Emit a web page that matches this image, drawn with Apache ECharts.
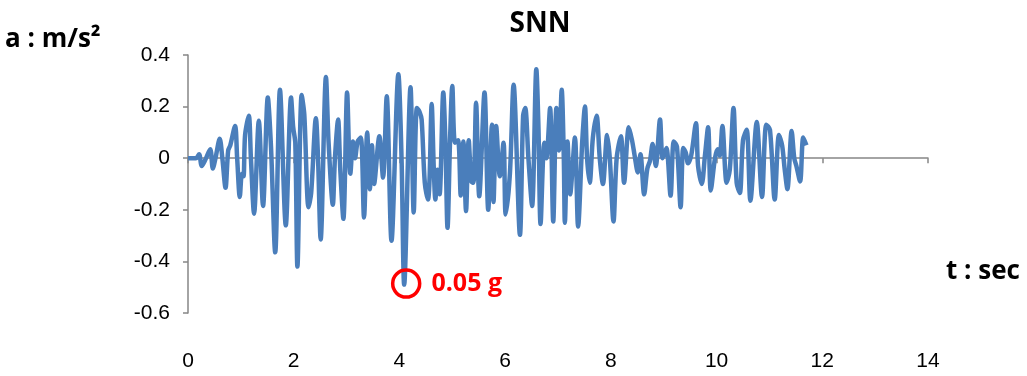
<!DOCTYPE html>
<html>
<head>
<meta charset="utf-8">
<title>SNN</title>
<script src="https://cdn.jsdelivr.net/npm/echarts@6/dist/echarts.min.js"></script>
<style>
  html, body { margin: 0; padding: 0; background: #fff; }
  #chart { width: 1027px; height: 376px; }
</style>
</head>
<body>
<div id="chart"></div>
<script>
// Ground acceleration record, SNN component (time in s, acceleration in m/s²)
const timeSec = [
  0, 0.15, 0.21, 0.26, 0.33, 0.42, 0.47, 0.52, 0.60, 0.65,
  0.71, 0.76, 0.80, 0.89, 0.93, 0.98, 1.02, 1.05, 1.08, 1.15,
  1.19, 1.25, 1.34, 1.42, 1.51, 1.57, 1.65, 1.74, 1.85, 1.95,
  1.99, 2.03, 2.07, 2.15, 2.20, 2.28, 2.33, 2.42, 2.46, 2.51,
  2.61, 2.66, 2.74, 2.78, 2.84, 2.88, 2.94, 3.01, 3.05, 3.07,
  3.12, 3.16, 3.21, 3.27, 3.33, 3.39, 3.44, 3.48, 3.52, 3.62,
  3.69, 3.76, 3.85, 3.98, 4.04, 4.09, 4.21, 4.27, 4.33, 4.38,
  4.42, 4.48, 4.54, 4.57, 4.61, 4.65, 4.68, 4.72, 4.76, 4.83,
  4.87, 4.91, 4.96, 5.00, 5.05, 5.11, 5.16, 5.21, 5.26, 5.31,
  5.36, 5.40, 5.45, 5.51, 5.61, 5.68, 5.75, 5.78, 5.83, 5.90,
  5.97, 6.01, 6.09, 6.16, 6.28, 6.34, 6.38, 6.44, 6.51, 6.59,
  6.63, 6.67, 6.74, 6.78, 6.85, 6.91, 6.97, 7.02, 7.07, 7.11,
  7.13, 7.18, 7.23, 7.32, 7.38, 7.46, 7.51, 7.55, 7.60, 7.66,
  7.73, 7.79, 7.85, 7.93, 7.98, 8.05, 8.11, 8.19, 8.25, 8.34,
  8.40, 8.45, 8.51, 8.56, 8.63, 8.69, 8.74, 8.79, 8.85, 8.93,
  8.98, 9.05, 9.13, 9.19, 9.25, 9.32, 9.37, 9.42, 9.46, 9.52,
  9.61, 9.65, 9.72, 9.78, 9.84, 9.89, 9.97, 10.02, 10.06, 10.11,
  10.19, 10.25, 10.32, 10.38, 10.44, 10.50, 10.57, 10.64, 10.76, 10.86,
  10.94, 11.01, 11.10, 11.18, 11.24, 11.29, 11.34, 11.42, 11.47, 11.51,
  11.58, 11.64, 11.70
];
const accel = [
  0, 0, 0.015, -0.03, -0.005, 0.035, -0.04, 0.0, 0.075, 0.0,
  -0.115, 0.03, 0.05, 0.125, 0.0, -0.15, -0.06, -0.07, 0.09, 0.165,
  0.0, -0.215, 0.145, -0.185, 0.235, 0.045, -0.365, 0.265, -0.26, 0.235,
  0.12, 0.06, -0.42, 0.245, 0.17, -0.19, -0.135, 0.155, 0.0, -0.315,
  0.315, 0.06, -0.18, 0.0, 0.15, -0.04, -0.235, 0.255, 0.0, -0.06,
  0.065, 0.0, 0.065, 0.08, -0.23, 0.1, -0.12, 0.05, -0.1, 0.085,
  -0.075, 0.24, -0.32, 0.325, 0.0, -0.49, 0.275, -0.21, 0.195, 0.18,
  0.15, -0.095, -0.16, -0.08, 0.21, -0.04, -0.16, -0.045, -0.14, 0.255,
  0.06, -0.27, 0.085, 0.28, 0.06, 0.07, -0.145, 0.065, -0.205, 0.07,
  -0.09, -0.095, 0.215, -0.147, 0.255, -0.2, 0.13, -0.17, 0.125, -0.07,
  0.06, -0.218, -0.06, 0.285, -0.297, 0.165, 0.195, 0.0, -0.185, 0.345,
  0.12, -0.255, 0.06, 0.0, 0.195, -0.245, 0.195, 0.03, 0.265, 0.0,
  -0.25, 0.065, -0.14, 0.08, -0.265, 0.07, 0.2, 0.0, -0.095, 0.08,
  0.165, 0.0, -0.1, 0.09, 0.0, -0.245, 0.0, 0.085, -0.095, 0.12,
  0.07, 0.01, -0.055, 0.015, -0.14, -0.04, -0.01, 0.055, -0.03, 0.15,
  0.0, 0.04, -0.145, 0.065, 0.045, -0.19, 0.04, 0.02, -0.02, 0.01,
  0.135, -0.03, -0.1, 0.01, 0.12, -0.125, 0.0, 0.035, 0.01, 0.125,
  -0.095, -0.045, 0.195, -0.095, -0.135, 0.07, 0.11, -0.165, 0.14, -0.15,
  0.13, 0.11, -0.16, 0.09, 0.05, -0.045, -0.12, 0.105, 0.0, -0.03,
  -0.09, 0.08, 0.05
];

// Axis ranges and tick labels
const xTicks = ['0', '2', '4', '6', '8', '10', '12', '14'];
const yTicks = ['-0.6', '-0.4', '-0.2', '0', '0.2', '0.4'];

// Peak ground acceleration callout: 0.05 g at t = 4.09 s
const peakTime = 4.09;
const peakAccel = -0.49;
const peakLabel = '0.05 g';

const tickFont = "'Liberation Sans Narrow', 'Liberation Sans', sans-serif";
const boldFont = "'Open Sans', 'Liberation Sans', sans-serif";

const seriesData = timeSec.map((t, i) => [t, accel[i]]);

const chart = echarts.init(document.getElementById('chart'), null, { renderer: 'canvas' });

chart.setOption({
  backgroundColor: '#ffffff',
  animation: false,
  title: {
    text: 'SNN',
    left: 535,
    top: 5,
    textAlign: 'center',
    textStyle: { fontFamily: boldFont, fontWeight: 'bold', fontSize: 28, color: '#000' }
  },
  grid: { left: 188, right: 99, top: 55, bottom: 63, containLabel: false },
  xAxis: [
    {
      type: 'value', min: 0, max: 14, interval: 2, position: 'bottom',
      axisLine: { show: true, onZero: true, lineStyle: { color: '#868686', width: 1.5 } },
      axisTick: { show: true, inside: false, length: 5, lineStyle: { color: '#868686', width: 1.5 } },
      axisLabel: { show: false },
      splitLine: { show: false }
    },
    {
      type: 'value', min: 0, max: 14, interval: 2, position: 'bottom',
      axisLine: { show: false, onZero: false },
      axisTick: { show: false },
      splitLine: { show: false },
      axisLabel: {
        show: true, margin: 38, fontFamily: tickFont, fontSize: 21, color: '#000',
        formatter: (v) => xTicks[Math.round(v / 2)]
      }
    }
  ],
  yAxis: {
    type: 'value', min: -0.6, max: 0.4, interval: 0.2,
    axisLine: { show: true, onZero: false, lineStyle: { color: '#868686', width: 1.5 } },
    axisTick: { show: true, inside: false, length: 5, lineStyle: { color: '#868686', width: 1.5 } },
    splitLine: { show: false },
    axisLabel: {
      margin: 18, fontFamily: tickFont, fontSize: 21, color: '#000',
      formatter: (v) => yTicks[Math.round((v + 0.6) / 0.2)]
    }
  },
  series: [{
    type: 'line',
    xAxisIndex: 0,
    data: seriesData,
    showSymbol: false,
    smooth: 0.3,
    lineStyle: { color: '#4a7ebb', width: 4.5, join: 'round' },
    itemStyle: { color: '#4a7ebb' },
    markPoint: {
      silent: true,
      symbol: 'circle',
      symbolSize: 27,
      symbolOffset: [2, -1],
      itemStyle: { color: 'rgba(0,0,0,0)', borderColor: '#ff0000', borderWidth: 3.5 },
      label: {
        show: true, position: 'right', distance: 10,
        formatter: peakLabel,
        fontFamily: boldFont, fontWeight: 'bold', fontSize: 25, color: '#ff0000'
      },
      data: [{ coord: [peakTime, peakAccel] }]
    }
  }],
  graphic: [
    {
      type: 'text', left: 5, top: 27,
      style: { text: 'a : m/s²', fontFamily: boldFont, fontWeight: 'bold', fontSize: 26, fill: '#000' }
    },
    {
      type: 'text', left: 946, top: 259,
      style: { text: 't : sec', fontFamily: boldFont, fontWeight: 'bold', fontSize: 26, fill: '#000' }
    }
  ]
});
</script>
</body>
</html>
